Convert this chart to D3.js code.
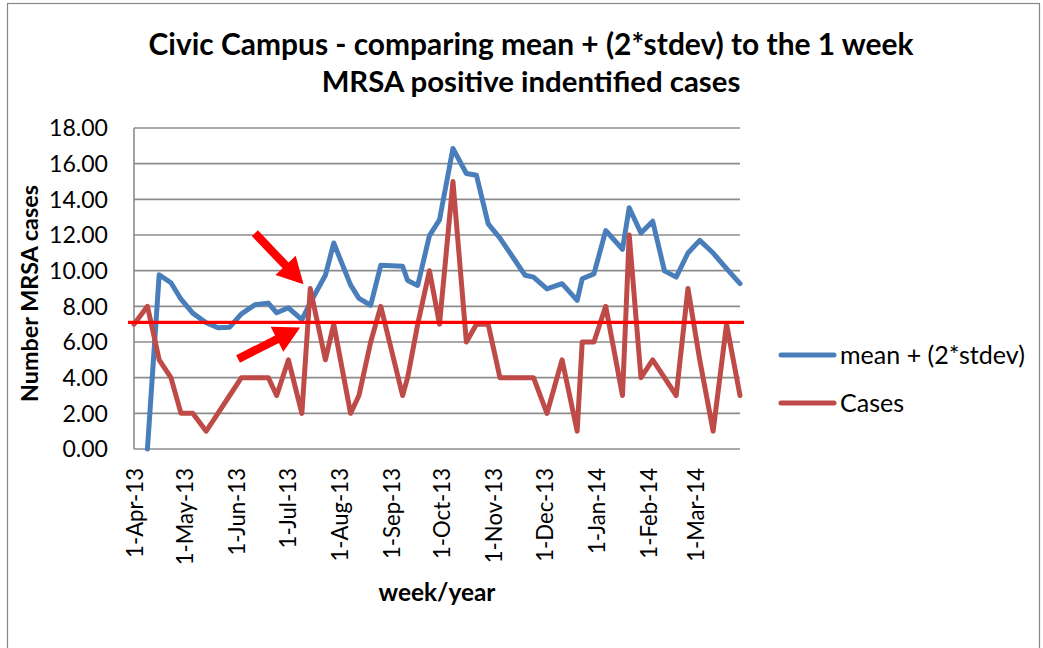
<!DOCTYPE html>
<html>
<head>
<meta charset="utf-8">
<script src="https://cdn.jsdelivr.net/npm/d3@7"></script>
<style>
  body { margin: 0; background: #fff; }
  text { font-family: Lato, "Open Sans", sans-serif; fill: #000; }
</style>
</head>
<body>
<div id="chart"></div>
<script>
// Week dates (reporting dates)
const weekDates = [
    "2013-04-01", "2013-04-09", "2013-04-16", "2013-04-23", "2013-04-29",
    "2013-05-06", "2013-05-14", "2013-05-21", "2013-05-28", "2013-06-04",
    "2013-06-12", "2013-06-20", "2013-06-25", "2013-07-02", "2013-07-10",
    "2013-07-15", "2013-07-24", "2013-07-29", "2013-08-08", "2013-08-13",
    "2013-08-20", "2013-08-26", "2013-09-08", "2013-09-11", "2013-09-17",
    "2013-09-24", "2013-09-30", "2013-10-08", "2013-10-16", "2013-10-22",
    "2013-10-29", "2013-11-05", "2013-11-12", "2013-11-20", "2013-11-25",
    "2013-12-03", "2013-12-12", "2013-12-21", "2013-12-24", "2013-12-31",
    "2014-01-07", "2014-01-17", "2014-01-21", "2014-01-28", "2014-02-04",
    "2014-02-11", "2014-02-18", "2014-02-25", "2014-03-04", "2014-03-12",
    "2014-03-20", "2014-03-28"
];

// mean + (2*stdev)
const meanPlus2Sd = [
    null, 0, 9.77, 9.32, 8.4, 7.62, 7.08, 6.8, 6.83, 7.58,
    8.09, 8.18, 7.64, 7.92, 7.25, 8.2, 9.74, 11.55, 9.2, 8.45,
    8.06, 10.3, 10.25, 9.45, 9.17, 11.97, 12.85, 16.85, 15.45, 15.35,
    12.62, 11.83, 10.85, 9.74, 9.64, 8.98, 9.27, 8.33, 9.55, 9.82,
    12.25, 11.2, 13.53, 12.11, 12.77, 9.99, 9.64, 10.99, 11.7, 10.99,
    10.11, 9.27
];

// weekly MRSA cases
const cases = [
    7, 8, 5, 4, 2, 2, 1, 2, 3, 4,
    4, 4, 3, 5, 2, 9, 5, 7, 2, 3,
    6, 8, 3, 4, 7, 10, 7, 15, 6, 7,
    7, 4, 4, 4, 4, 2, 5, 1, 6, 6,
    8, 3, 12, 4, 5, 4, 3, 9, 5, 1,
    7, 3
];

const seriesNames = ["mean + (2*stdev)", "Cases"];
const threshold = 7.1;
const monthTicks = [
    "2013-04-01", "2013-05-01", "2013-06-01", "2013-07-01", "2013-08-01", "2013-09-01",
    "2013-10-01", "2013-11-01", "2013-12-01", "2014-01-01", "2014-02-01", "2014-03-01"
];
const yTicks = [0, 2, 4, 6, 8, 10, 12, 14, 16, 18];
const axisStart = "2013-04-01";
const axisEnd = "2014-03-28";

// Annotation arrows: [date, value] of tail and tip
const arrowTails = [["2013-06-12", 12.1], ["2013-06-02", 5.05]];
const arrowTips = [["2013-07-11", 9.24], ["2013-07-09", 6.82]];

const parse = d3.timeParse("%Y-%m-%d");
const fmt = d3.timeFormat("%-d-%b-%y");

const W = 1043, H = 648;
const plot = { left: 134, right: 740, top: 128, bottom: 449 };

const svg = d3.select("#chart")
    .append("svg")
    .attr("width", W)
    .attr("height", H);

// Chart frame
svg.append("rect")
    .attr("x", 7.5).attr("y", 3.5)
    .attr("width", 1032).attr("height", 700)
    .attr("fill", "#fff")
    .attr("stroke", "#868686")
    .attr("stroke-width", 1.2);

const x = d3.scaleTime()
    .domain([parse(axisStart), parse(axisEnd)])
    .range([plot.left, plot.right]);

const y = d3.scaleLinear()
    .domain([0, 18])
    .range([plot.bottom, plot.top]);

// fit a text's font-size so that it spans the given width
function fitSize(sel, target) {
    const w = sel.node().getComputedTextLength();
    const fs = parseFloat(sel.style("font-size"));
    const size = fs * target / w;
    sel.style("font-size", size + "px");
    return size;
}

// Gridlines
svg.append("g")
    .selectAll("line")
    .data(yTicks)
    .enter()
    .append("line")
    .attr("x1", plot.left).attr("x2", plot.right)
    .attr("y1", d => y(d)).attr("y2", d => y(d))
    .attr("stroke", "#8c8c8c")
    .attr("stroke-width", 1.6);

// Vertical axis line
svg.append("line")
    .attr("x1", plot.left).attr("x2", plot.left)
    .attr("y1", y(18)).attr("y2", y(0))
    .attr("stroke", "#8c8c8c")
    .attr("stroke-width", 1.6);

// Y tick labels
const yLab = svg.append("g")
    .selectAll("text")
    .data(yTicks)
    .enter()
    .append("text")
    .attr("x", 108)
    .attr("y", d => y(d))
    .attr("dy", "0.36em")
    .attr("text-anchor", "end")
    .style("font-size", "24px")
    .text(d => d.toFixed(2));
const ySize = fitSize(yLab.filter(d => d === 10), 59);
yLab.style("font-size", ySize + "px");

// X tick labels (rotated)
const xLab = svg.append("g")
    .selectAll("text")
    .data(monthTicks.map(parse))
    .enter()
    .append("text")
    .attr("transform", d => `translate(${x(d) + 1}, 468) rotate(-90)`)
    .attr("dy", "0.36em")
    .attr("text-anchor", "end")
    .style("font-size", "24px")
    .text(d => fmt(d));
const xSize = fitSize(xLab.filter((d, i) => i === 0), 90);
xLab.style("font-size", xSize + "px");

// Series
const rows = weekDates.map((d, i) => ({ date: parse(d), mean: meanPlus2Sd[i], cases: cases[i] }));

const lineFor = key => d3.line()
    .defined(d => d[key] != null)
    .x(d => x(d.date))
    .y(d => y(d[key]));

const colors = ["#4A7EBB", "#BE4B48"];
const keys = ["mean", "cases"];

keys.forEach((k, i) => {
    svg.append("path")
        .datum(rows)
        .attr("d", lineFor(k))
        .attr("fill", "none")
        .attr("stroke", colors[i])
        .attr("stroke-width", 5)
        .attr("stroke-linejoin", "round")
        .attr("stroke-linecap", "round");
});

// Threshold line (drawn shape)
svg.append("line")
    .attr("x1", plot.left - 6).attr("x2", plot.right + 4)
    .attr("y1", y(threshold)).attr("y2", y(threshold))
    .attr("stroke", "#FF0000")
    .attr("stroke-width", 3.2);

// Arrows
const arrowPoly = (t, p) => {
    const x1 = x(parse(t[0])), y1 = y(t[1]);
    const x2 = x(parse(p[0])), y2 = y(p[1]);
    const len = Math.hypot(x2 - x1, y2 - y1);
    const ux = (x2 - x1) / len, uy = (y2 - y1) / len;
    const nx = -uy, ny = ux;
    const sw = 4.2, hw = 14, hl = 26;
    const bx = x2 - ux * hl, by = y2 - uy * hl;
    return [
        [x1 + nx * sw, y1 + ny * sw],
        [bx + nx * sw, by + ny * sw],
        [bx + nx * hw, by + ny * hw],
        [x2, y2],
        [bx - nx * hw, by - ny * hw],
        [bx - nx * sw, by - ny * sw],
        [x1 - nx * sw, y1 - ny * sw]
    ].map(p => p.join(",")).join(" ");
};

svg.append("g")
    .selectAll("polygon")
    .data(arrowTails.map((t, i) => [t, arrowTips[i]]))
    .enter()
    .append("polygon")
    .attr("points", d => arrowPoly(d[0], d[1]))
    .attr("fill", "#FF0000");

// Titles
const t1 = svg.append("text")
    .attr("x", 531).attr("y", 55)
    .attr("text-anchor", "middle")
    .style("font-weight", "bold")
    .style("font-size", "26px")
    .text("Civic Campus - comparing mean + (2*stdev) to the 1 week");
fitSize(t1, 765);

const t2 = svg.append("text")
    .attr("x", 531).attr("y", 92)
    .attr("text-anchor", "middle")
    .style("font-weight", "bold")
    .style("font-size", "26px")
    .text("MRSA positive indentified cases");
fitSize(t2, 419);

const yTitle = svg.append("text")
    .attr("transform", `translate(29.5, 293.5) rotate(-90)`)
    .attr("dy", "0.36em")
    .attr("text-anchor", "middle")
    .style("font-weight", "bold")
    .style("font-size", "24px")
    .text("Number MRSA cases");
fitSize(yTitle, 217);

const xTitle = svg.append("text")
    .attr("x", (plot.left + plot.right) / 2).attr("y", 601)
    .attr("text-anchor", "middle")
    .style("font-weight", "bold")
    .style("font-size", "24px")
    .text("week/year");
fitSize(xTitle, 117);

// Legend
const legend = svg.append("g")
    .selectAll("g")
    .data(seriesNames)
    .enter()
    .append("g")
    .attr("transform", (d, i) => `translate(781, ${355 + i * 48})`);

legend.append("line")
    .attr("x1", 0).attr("x2", 53)
    .attr("stroke", (d, i) => colors[i])
    .attr("stroke-width", 5)
    .attr("stroke-linecap", "round");

const legText = legend.append("text")
    .attr("x", 59)
    .attr("dy", "0.36em")
    .style("font-size", "24px")
    .text(d => d);
const lSize = fitSize(legText.filter((d, i) => i === 0), 185);
legText.style("font-size", lSize + "px");
</script>
</body>
</html>
